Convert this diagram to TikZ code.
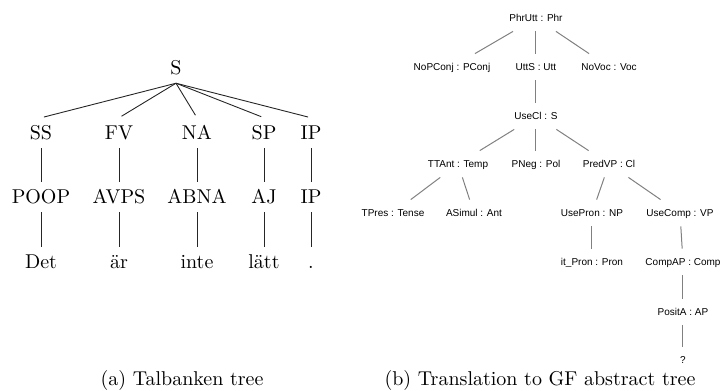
\documentclass[tikz,border=0pt]{standalone}
\usepackage{fontspec}
\newfontfamily\gffont{Liberation Sans}

\begin{document}
\begin{tikzpicture}[x=0.5pt, y=-0.5pt,
    tb/.style={font=\fontsize{10}{12}\selectfont, text height=6.83pt, text depth=0pt, inner xsep=1pt, inner ysep=4pt},
    tbedge/.style={black!85, line width=0.45pt},
    gf/.style={font=\gffont\fontsize{5}{6}\selectfont, text height=3.6pt, text depth=0pt, inner xsep=1pt, inner ysep=4.7pt},
    gfedge/.style={black!50, line width=0.5pt},
    subcap/.style={font=\fontsize{10}{12}\selectfont, anchor=base, inner sep=0pt}]

  \useasboundingbox (0,0) rectangle (720,391);

  % (a) Talbanken tree
  \node[tb] (S) at (176,68) {S};
  \foreach \x/\tag/\pos/\word [count=\i] in {41/SS/POOP/Det, 119/FV/AVPS/är, 197/NA/ABNA/inte, 264/SP/AJ/lätt, 311/IP/IP/.} {
    \node[tb] (F\i) at (\x,133) {\tag};
    \node[tb] (P\i) at (\x,197) {\pos};
    \node[tb] (W\i) at (\x,262) {\word};
    \draw[tbedge, shorten >=1.5pt] (S.south) -- (F\i.north);
    \draw[tbedge] (F\i) -- (P\i);
    \draw[tbedge] (P\i) -- (W\i);
  }

  % (b) GF abstract tree
  \node[gf] (PhrUtt)   at (536,18)  {PhrUtt : Phr};
  \node[gf] (NoPConj)  at (452,67)  {NoPConj : PConj};
  \node[gf] (UttS)     at (536,67)  {UttS : Utt};
  \node[gf] (NoVoc)    at (609,67)  {NoVoc : Voc};
  \node[gf] (UseCl)    at (536,116) {UseCl : S};
  \node[gf] (TTAnt)    at (458,164) {TTAnt : Temp};
  \node[gf] (PNeg)     at (536,164) {PNeg : Pol};
  \node[gf] (PredVP)   at (609,164) {PredVP : Cl};
  \node[gf] (TPres)    at (393,213) {TPres : Tense};
  \node[gf] (ASimul)   at (474,213) {ASimul : Ant};
  \node[gf] (UsePron)  at (592,213) {UsePron : NP};
  \node[gf] (UseComp)  at (680,213) {UseComp : VP};
  \node[gf] (itPron)   at (592,262) {it\_Pron : Pron};
  \node[gf] (CompAP)   at (683,262) {CompAP : Comp};
  \node[gf] (PositA)   at (683,312) {PositA : AP};
  \node[gf] (Missing)  at (683,360) {?};

  \foreach \a/\b in {PhrUtt/NoPConj, PhrUtt/UttS, PhrUtt/NoVoc, UttS/UseCl,
                     UseCl/TTAnt, UseCl/PNeg, UseCl/PredVP,
                     TTAnt/TPres, TTAnt/ASimul, PredVP/UsePron, PredVP/UseComp,
                     UsePron/itPron, UseComp/CompAP, CompAP/PositA, PositA/Missing}
    \draw[gfedge] (\a) -- (\b);

  % Captions
  \node[subcap] (capA) at (182,386) {(a) Talbanken tree};
  \node[subcap] (capB) at (540,386) {(b) Translation to GF abstract tree};

\end{tikzpicture}
\end{document}
